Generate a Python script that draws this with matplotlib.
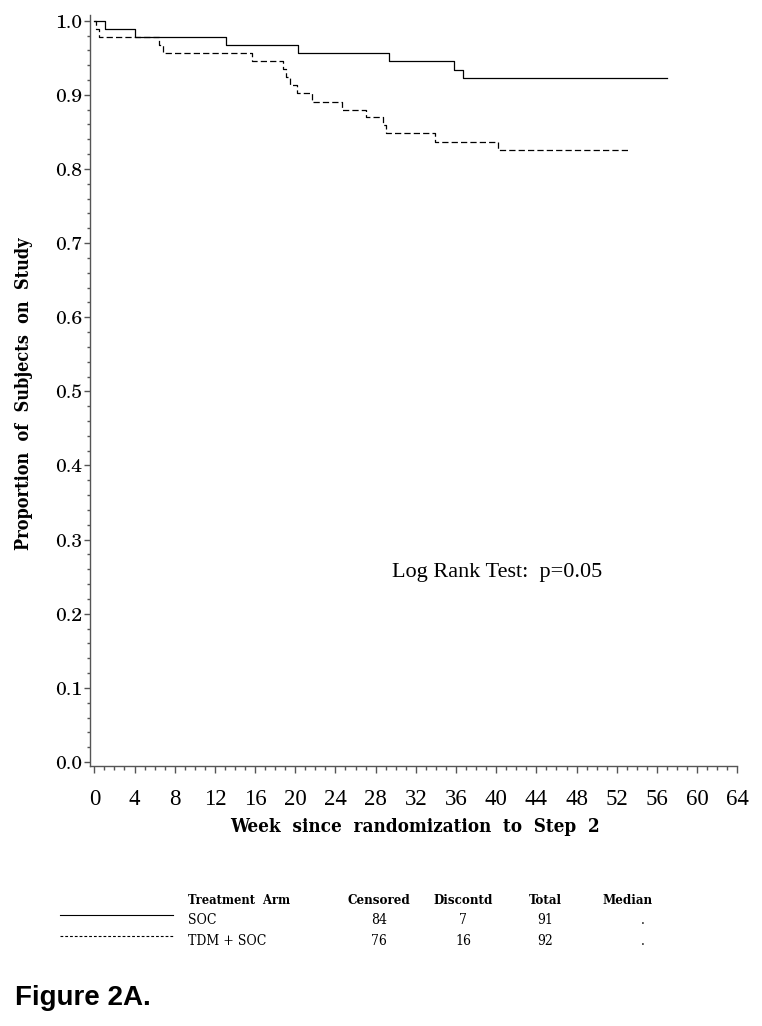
import matplotlib
matplotlib.use("Agg")
import matplotlib.pyplot as plt
from matplotlib.ticker import MultipleLocator, FixedLocator

# ---------------- data ----------------
soc_weeks = [0, 1.1, 4.0, 13.1, 20.3, 29.3, 35.8, 36.7, 57.0]
soc_surv = [1.000, 0.989, 0.978, 0.967, 0.956, 0.945, 0.934, 0.923, 0.923]

tdm_weeks = [0, 0.15, 0.5, 6.4, 6.8, 15.7, 18.75, 19.1, 19.5, 20.2, 21.7,
             24.7, 27.0, 28.7, 29.0, 33.9, 40.2, 53.1]
tdm_surv = [1.000, 0.989, 0.978, 0.967, 0.957, 0.946, 0.935, 0.924, 0.913,
            0.902, 0.891, 0.880, 0.870, 0.859, 0.848, 0.837, 0.826, 0.826]

x_ticks = list(range(0, 65, 4))
y_ticks = [i / 10 for i in range(11)]

table_header = ["Treatment  Arm", "Censored", "Discontd", "Total", "Median"]
arms = ["SOC", "TDM + SOC"]
censored = [84, 76]
discontd = [7, 16]
totals = [91, 92]
medians = [".", "."]

logrank_text = "Log Rank Test:  p=0.05"
figure_label = "Figure 2A."

# ---------------- figure ----------------
W, H = 762, 1026
fig = plt.figure(figsize=(W / 100, H / 100), dpi=100)
ax = fig.add_axes([90 / W, 1 - 766 / H, (737.3 - 90) / W, (766 - 15) / H])

axis_col = "#555555"
ax.step(soc_weeks, soc_surv, where="post", color="black", lw=0.9)
ax.step(tdm_weeks, tdm_surv, where="post", color="black", lw=0.9,
        linestyle=(0, (5, 2.5)))

ax.set_xlim(-0.43, 64)
ax.set_ylim(-0.0054, 1.0077)

for s in ["top", "right"]:
    ax.spines[s].set_visible(False)
for s in ["left", "bottom"]:
    ax.spines[s].set_color(axis_col)
    ax.spines[s].set_linewidth(1.0)

ax.xaxis.set_major_locator(FixedLocator(x_ticks))
ax.xaxis.set_minor_locator(MultipleLocator(1))
ax.yaxis.set_major_locator(FixedLocator(y_ticks))
ax.yaxis.set_minor_locator(MultipleLocator(0.02))

ax.tick_params(axis="both", which="both", direction="out", color=axis_col, width=1.0)
ax.tick_params(axis="x", which="major", length=5, pad=11.5)
ax.tick_params(axis="x", which="minor", length=3)
ax.tick_params(axis="y", which="major", length=4.3, pad=1.5)
ax.tick_params(axis="y", which="minor", length=2.4)

ax.set_xticklabels([str(t) for t in x_ticks], family="Liberation Serif",
                   fontsize=16.5)
ax.set_yticklabels([f"{v:.1f}" for v in y_ticks], family="TeX Gyre Schola",
                   fontsize=14)

# axis titles
fig.text(415 / W, 1 - 832 / H, "Week  since  randomization  to  Step  2",
         ha="center", va="baseline", family="DejaVu Serif",
         fontstretch="condensed", fontweight="bold", fontsize=13.5)
fig.text(24.5 / W, 1 - 394 / H, "Proportion  of  Subjects  on  Study",
         rotation=90, ha="center", va="center", family="DejaVu Serif",
         fontstretch="condensed", fontweight="bold", fontsize=13)

# log rank annotation
ax.text(29.6, 0.2496, logrank_text, ha="left", va="baseline",
        family="Liberation Serif", fontsize=16)

# ---------------- legend table ----------------
hdr_y = 1 - 900 / H
row_y = [1 - 920 / H, 1 - 941 / H]
line_y = [1 - 915 / H, 1 - 936 / H]
col_x = {"arm": 188 / W, "cens": 379 / W, "disc": 463 / W, "tot": 545 / W, "med": 628 / W}
med_val_x = 643 / W

tfont = dict(family="DejaVu Serif", fontstretch="condensed")
fig.text(col_x["arm"], hdr_y, table_header[0], ha="left", va="center",
         fontweight="bold", fontsize=9.2, **tfont)
for key, lab in zip(["cens", "disc", "tot", "med"], table_header[1:]):
    fig.text(col_x[key], hdr_y, lab, ha="center", va="center",
             fontweight="bold", fontsize=9.5, **tfont)

styles = ["-", (0, (2.5, 1.8))]
for i in range(2):
    fig.add_artist(plt.Line2D([60 / W, 173 / W], [line_y[i], line_y[i]],
                              transform=fig.transFigure, color="black",
                              lw=0.8, linestyle=styles[i]))
    fig.text(col_x["arm"], row_y[i], arms[i], ha="left", va="center",
             fontsize=10, **tfont)
    fig.text(col_x["cens"], row_y[i], str(censored[i]), ha="center",
             va="center", fontsize=10, **tfont)
    fig.text(col_x["disc"], row_y[i], str(discontd[i]), ha="center",
             va="center", fontsize=10, **tfont)
    fig.text(col_x["tot"], row_y[i], str(totals[i]), ha="center",
             va="center", fontsize=10, **tfont)
    fig.text(med_val_x, row_y[i], medians[i], ha="center", va="center",
             fontsize=10, **tfont)

fig.text(15 / W, 1 - 1005 / H, figure_label, ha="left", va="baseline",
         family="Liberation Sans", fontweight="bold", fontsize=20)

fig.savefig("out.png", dpi=100)
